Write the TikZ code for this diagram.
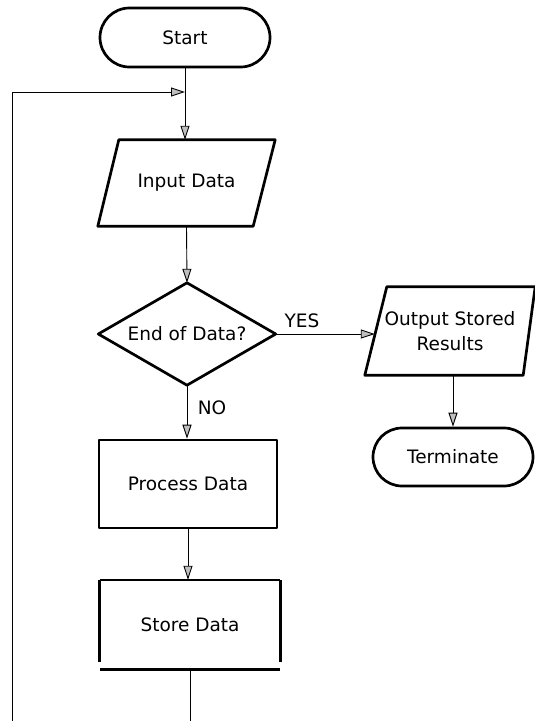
\documentclass[tikz,border=0pt]{standalone}
\usepackage{fontspec}
\setmainfont{DejaVu Sans}
\usetikzlibrary{shapes.misc,arrows.meta,calc}

\begin{document}
\begin{tikzpicture}[x=1pt,y=-1pt,
  every node/.style={font=\fontsize{18.5}{25}\selectfont, inner sep=0pt, align=center},
  outline/.style={draw, line width=2.7pt, line join=round},
  terminal/.style={outline, rounded rectangle},
  link/.style={line width=0.9pt},
  arr/.style={link, -{Triangle[length=14pt, width=9pt, fill=gray!50, line width=0.9pt]}},
]
\useasboundingbox (0,0) rectangle (535,721);

% main column
\node[terminal, minimum width=170pt, minimum height=59pt] (start) at (185,37.5) {Start};

\node[minimum width=177pt, minimum height=86pt] (input) at (186.5,183) {Input Data};
\draw[outline] (input.south west) -- ($(input.south east)+(-22,0)$)
  -- (input.north east) -- ($(input.north west)+(21,0)$) -- cycle;

% decision: the diamond runs through the four side midpoints of its box
\node[minimum width=177pt, minimum height=102pt] (dec) at (187,334) {End of Data?};
\draw[outline] (dec.north) -- (dec.east) -- (dec.south) -- (dec.west) -- cycle;

\node[outline, minimum width=178pt, minimum height=88pt] (proc) at (188,484) {Process Data};

\node[minimum width=180pt, minimum height=89pt] (store) at (190,624.5) {Store Data};
\draw[line width=1.5pt] (store.north west) -- (store.north east);
\draw[outline] (store.north west) -- ($(store.south west)+(0,-7)$);
\draw[outline] (store.north east) -- ($(store.south east)+(0,-7)$);
\draw[outline] (store.south west) -- (store.south east);

% right branch
\node[minimum width=170pt, minimum height=88pt] (out) at (450,331) {Output Stored\\Results};
\draw[outline] (out.south west) -- ($(out.south east)+(-12,0)$)
  -- (out.north east) -- ($(out.north west)+(22,0)$) -- cycle;

\node[terminal, minimum width=160pt, minimum height=58pt] (term) at (453,457) {Terminate};

% labels
\node (yes) at (302,321) {YES};
\node (no) at (212,408) {NO};

% loop-back path
\coordinate (ret0) at (190,721);
\coordinate (ret1) at (12,721);
\coordinate (ret2) at (12,92);
\coordinate (join) at (start.south |- ret2);
\coordinate (outL) at ($(out.west)+(10,0)$);

% connectors
\draw[link] (start.south) -- (join);
\draw[arr] (join) -- (start.south |- input.north);
\draw[arr] (input.south) -- (dec.north);
\draw[arr] (dec.east) -- (dec.east -| outL);
\draw[arr] (dec.south) -- (dec.south |- proc.north);
\draw[arr] (term.north |- out.south) -- (term.north);
\draw[arr] (proc.south) -- (proc.south |- store.north);
\draw[link] (store.south) -- (ret0);
\draw[arr] (ret1) -- (ret2) -- (join);
\end{tikzpicture}
\end{document}
